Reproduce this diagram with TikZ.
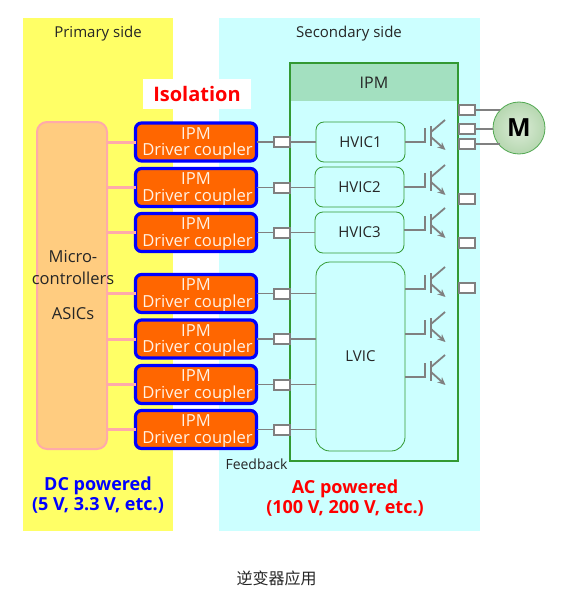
\documentclass[tikz,border=0pt]{standalone}
\usepackage{fontspec}
\setmainfont{Open Sans}
\newfontfamily\cjkfont{Noto Sans CJK SC}
\usetikzlibrary{arrows.meta,shadows}
\definecolor{SideYellow}{HTML}{FFFF66}
\definecolor{SideCyan}{HTML}{CCFFFF}
\definecolor{IpmGreen}{HTML}{339933}
\definecolor{IpmHead}{HTML}{A3E0C0}
\definecolor{McuFill}{HTML}{FFCC80}
\definecolor{LinkPink}{HTML}{FFAAAA}
\definecolor{WireGray}{HTML}{808080}
\definecolor{CouplerFill}{HTML}{FF6600}
\definecolor{MotorIn}{HTML}{DCECD8}
\definecolor{MotorOut}{HTML}{B6D7B0}
\newcommand{\fs}[1]{\fontsize{#1}{#1}\selectfont}
\tikzset{>=Stealth,x=1pt,y=-1pt,every node/.style={font=\fs{15},text=black!85},
 boxat/.style args={#1x#2}{minimum width=#1pt,minimum height=#2pt,inner sep=0pt,outer sep=0pt},
 coupler/.style={boxat=121x38,draw=blue,line width=3.2pt,fill=CouplerFill,rounded corners=6pt,
 align=center,font=\fs{16.6},text=white!90!orange,general shadow={fill=black!40,opacity=.35,shadow xshift=1pt,shadow yshift=-1pt}},
 ic/.style={draw=IpmGreen,fill=SideCyan,line width=.8pt,rounded corners=8pt,font=\fs{15}},
 pad/.style={boxat=16x10,draw=WireGray,fill=white,line width=2pt},
 wire/.style={draw=WireGray,line width=1.8pt},
 link/.style={draw=LinkPink,line width=3pt},
 power/.style={align=center,font=\bfseries\fs{18}}}
\begin{document}
\begin{tikzpicture}
\useasboundingbox (0,0) rectangle (568,607);
% sides
\node[boxat=150x513,fill=SideYellow] (primary) at (98,274.5){};
\node[boxat=261x513,fill=SideCyan] (secondary) at (349.5,274.5){};
\node (primarytxt) at (98,34){Primary side};\node (secondarytxt) at (349,34){Secondary side};
\node[boxat=108x30,fill=white,text=red,font=\bfseries\fs{20}] (isolation) at (197,94){Isolation};
% IPM package
\node[boxat=168x398,draw=IpmGreen,line width=1.8pt,fill=SideCyan] (ipm) at (374,262){};
\node[boxat=166x37,fill=IpmHead,font=\fs{16}] (ipmhead) at (374,82.5){IPM};
% primary side
\node[boxat=70x327,draw=LinkPink,fill=McuFill,line width=2pt,rounded corners=10pt] (mcu) at (72,285.5){};
\node[align=center,font=\fs{16.5}] (mcutxt) at (73,285.5){Micro-\\[5pt]controllers\\[19pt]ASICs};
\foreach \n/\y in {1/142,2/187.5,3/232.5,4/293.5,5/339,6/384.5,7/429.5}{
 \coordinate (m\n) at (mcu.east|-0,\y);
 \node[coupler] (c\n) at (196,\y) {\rule{0pt}{15pt}IPM\\\hspace*{3pt}Driver coupler};
 \node[pad] (p\n) at (281.5,\y){};
 \draw[link] (m\n) -- (c\n.west|-m\n);
 \draw[wire] (c\n.east) -- (p\n.west);}
% drivers
\node[boxat=89x40,ic] (hv1) at (360.5,142){HVIC1};
\node[boxat=89x40,ic] (hv2) at (359.5,187){HVIC2};
\node[boxat=89x41,ic] (hv3) at (359.5,232.5){HVIC3};
\node[boxat=89x189,ic,rounded corners=14pt] (lv) at (360.5,356.5){LVIC};
\foreach \n/\to in {1/hv1,2/hv2,3/hv3,4/lv,5/lv,6/lv,7/lv}{\draw[wire] (p\n.east) -- (\to.west|-p\n);}
% output transistors
\foreach \n/\from/\y in {1/hv1/142,2/hv2/187,3/hv3/230,4/lv/289,5/lv/334,6/lv/377}{
 \coordinate (g\n) at (425,\y-14);
 \coordinate (b\n) at (431,\y-16);\coordinate (e\n) at (431,\y+4);
 \draw[wire] (\from.east|-0,\y) -- (425,\y) -- (g\n);
 \draw[wire] (b\n) -- (e\n);
 \draw[wire] (431,\y-10) -- (445,\y-22);
 \draw[wire,-{Stealth[length=8pt,width=7pt]}] (431,\y-5) -- (445.5,\y+8);}
% output pads and motor
\node[circle,minimum size=52pt,inner sep=0pt,draw=IpmGreen!85,line width=.8pt,inner color=MotorIn,outer color=MotorOut,
 font=\bfseries\fs{25},text=black] (motor) at (519,128){M};
\foreach \n/\y in {1/110,2/129,3/144,4/199,5/243,6/288}{\node[pad] (o\n) at (467,\y){};}
\draw[wire] (o1.east) -- (motor.north west|-o1);
\draw[wire] (o2.east) -- (motor.west|-o2);
\draw[wire] (o3.east) -- (motor.south west|-o3);
% notes
\node[font=\fs{14}] (feedback) at (256.5,464){Feedback};
\node[power,text=blue] (dc) at (98,495.5){DC powered\\[2pt](5 V, 3.3 V, etc.)};
\node[power,text=red] (ac) at (345,498.5){AC powered\\[2pt](100 V, 200 V, etc.)};
\node[font=\cjkfont\fs{16}] (caption) at (276.5,578){逆变器应用};
\end{tikzpicture}
\end{document}
